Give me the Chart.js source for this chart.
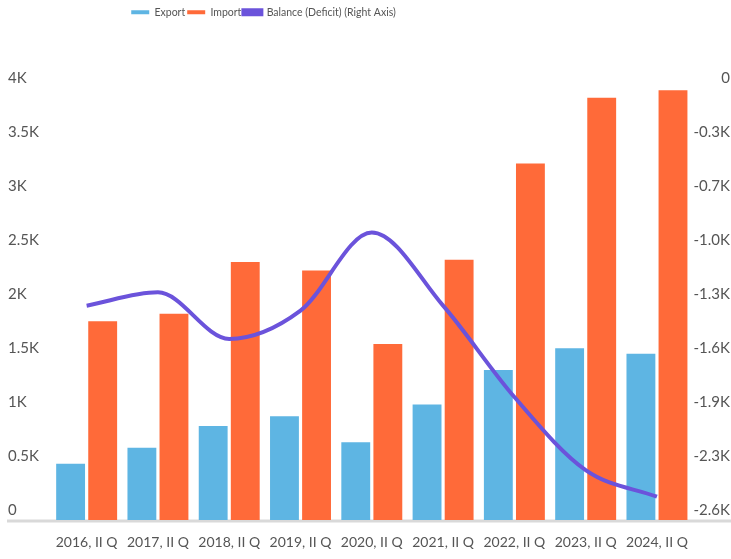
<!DOCTYPE html>
<html><head><meta charset="utf-8">
<script src="https://cdn.jsdelivr.net/npm/chart.js@4/dist/chart.umd.min.js"></script>
<style>html,body{margin:0;padding:0;background:#fff}canvas{display:block}</style>
</head><body>
<canvas id="c" width="731" height="559"></canvas>
<script>
const categories = ["2016, II Q","2017, II Q","2018, II Q","2019, II Q","2020, II Q","2021, II Q","2022, II Q","2023, II Q","2024, II Q"];
const exportValues = [520, 670, 870, 960, 720, 1070, 1390, 1590, 1540];
const importValues = [1840, 1910, 2390, 2310, 1630, 2410, 3300, 3910, 3980];
const balanceValues = [-1310, -1230, -1510, -1340, -870, -1310, -1860, -2300, -2460];
const seriesNames = ["Export", "Import", "Balance (Deficit) (Right Axis)"];

const FONT = "Lato, 'Open Sans', sans-serif";
const TEXT = "#555555";

const legendFix = {
  id: 'legendFix',
  beforeInit(chart) {
    const orig = chart.legend.fit;
    chart.legend.fit = function () { orig.call(this); this.height = 83; };
  },
  afterLayout(chart) {
    chart.legend.left = 0; chart.legend.right = 527; chart.legend.width = 527;
  }
};
const baseline = {
  id: 'baseline',
  beforeDatasetsDraw(chart) {
    const y = chart.scales.y.getPixelForValue(0);
    const ctx = chart.ctx;
    ctx.save();
    ctx.fillStyle = '#d9d9d9';
    ctx.fillRect(7, y - 0.5, chart.width - 7, 3);
    ctx.restore();
  }
};

new Chart(document.getElementById('c'), {
  data: {
    labels: categories,
    datasets: [
      { type: 'bar', label: seriesNames[0], data: exportValues, backgroundColor: '#5EB5E3', yAxisID: 'y', order: 1,
        categoryPercentage: 0.9, barPercentage: 0.9 },
      { type: 'bar', label: seriesNames[1], data: importValues, backgroundColor: '#FF6A39', yAxisID: 'y', order: 1,
        categoryPercentage: 0.9, barPercentage: 0.9 },
      { type: 'line', label: seriesNames[2], data: balanceValues, borderColor: '#6B53DB', backgroundColor: '#6B53DB',
        borderWidth: 4, pointRadius: 0, cubicInterpolationMode: 'monotone', yAxisID: 'y1', order: 0, fill: false }
    ]
  },
  options: {
    responsive: false,
    animation: false,
    layout: { padding: { top: 5, left: 8, right: 1, bottom: 0 } },
    plugins: {
      tooltip: { enabled: false },
      legend: {
        position: 'top',
        labels: {
          boxWidth: 18, boxHeight: 4, padding: 2, color: TEXT,
          font: { family: FONT, size: 10.5 },
          sort: (a, b) => a.datasetIndex - b.datasetIndex
        }
      }
    },
    scales: {
      x: {
        grid: { display: false, drawTicks: false },
        border: { display: false },
        ticks: { color: TEXT, font: { family: FONT, size: 14 }, padding: 14, maxRotation: 0, autoSkip: false },
        afterFit(s) { s.height = 39; }
      },
      y: {
        position: 'left', min: 0, max: 4000,
        grid: { display: false, drawTicks: false },
        border: { display: false },
        ticks: { stepSize: 500, color: TEXT, font: { family: FONT, size: 15 }, crossAlign: 'far', labelOffset: -10,
          callback: v => v === 0 ? '0' : (v / 1000) + 'K' },
        afterFit(s) { s.width = 43; }
      },
      y1: {
        position: 'right', min: -2600, max: 0,
        grid: { display: false, drawTicks: false },
        border: { display: false },
        ticks: { stepSize: 325, color: TEXT, font: { family: FONT, size: 15 }, crossAlign: 'far', labelOffset: -10,
          callback: v => v === 0 ? '0' : (v / 1000).toFixed(1) + 'K' },
        afterFit(s) { s.width = 37.4; }
      }
    }
  },
  plugins: [legendFix, baseline]
});
</script>
</body></html>
